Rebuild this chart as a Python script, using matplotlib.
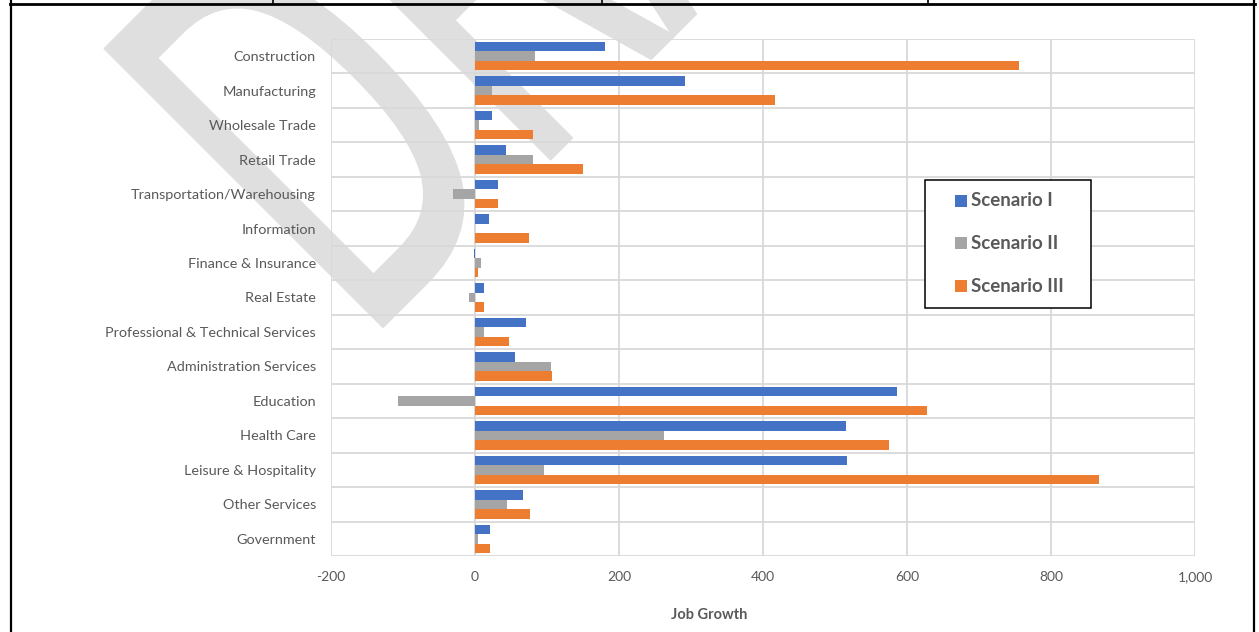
import numpy as np
import matplotlib
matplotlib.use("Agg")
import matplotlib.pyplot as plt
from matplotlib.ticker import FuncFormatter, FixedLocator
from matplotlib.textpath import TextPath
from matplotlib.font_manager import FontProperties
from matplotlib.patches import PathPatch, Rectangle
from matplotlib.transforms import Affine2D, IdentityTransform
from matplotlib.lines import Line2D

plt.rcParams['font.family'] = ['Lato', 'DejaVu Sans']

# --- data ---
categories = ["Construction", "Manufacturing", "Wholesale Trade", "Retail Trade",
              "Transportation/Warehousing", "Information", "Finance & Insurance",
              "Real Estate", "Professional & Technical Services",
              "Administration Services", "Education", "Health Care",
              "Leisure & Hospitality", "Other Services", "Government"]
scenario_1 = [181, 291, 23, 43, 32, 19, -2, 12, 71, 56, 586, 515, 517, 67, 21]
scenario_2 = [83, 23, 6, 80, -30, 0, 8, -8, 12, 106, -107, 263, 96, 45, 4]
scenario_3 = [755, 417, 81, 150, 32, 75, 4, 12, 47, 107, 628, 575, 867, 76, 21]
series_names = ["Scenario I", "Scenario II", "Scenario III"]
colors = ["#4472C4", "#A5A5A5", "#ED7D31"]
x_ticks = [-200, 0, 200, 400, 600, 800, 1000]

W, H = 1259, 632
TXT = "#595959"
GRID = "#d9d9d9"

fig = plt.figure(figsize=(W / 100, H / 100), dpi=100)
fig.patch.set_facecolor("white")

def px(x, y):
    # top-left pixel coords -> display coords
    return x, H - y

# ---- DRAFT watermark (behind the chart) ----
tp = TextPath((0, 0), "DRAFT", size=540, prop=FontProperties(family="DejaVu Sans"))
x0 = tp.get_extents().x0
sx = 0.57
c45 = np.cos(np.pi / 4)
cx, cy = px(383, 327)
tr = Affine2D().scale(sx, 1).rotate_deg(45).translate(cx - x0 * sx * c45, cy - x0 * sx * c45)
wm = PathPatch(tr.transform_path(tp), facecolor="#dfdfdf", edgecolor="#dfdfdf",
               lw=1.5, joinstyle="round", transform=IdentityTransform(), zorder=-1)
fig.add_artist(wm)

# ---- axes ----
ax = fig.add_axes([331 / W, (H - 556) / H, 864 / W, 517 / H])
ax.set_facecolor("none")

y = np.arange(len(categories))
h = 0.275
for k, (vals, name, col) in enumerate(zip([scenario_1, scenario_2, scenario_3], series_names, colors)):
    ax.barh(y + (k - 1) * h, vals, height=h, color=col, label=name, zorder=3)

ax.set_xlim(-200, 1000)
ax.set_ylim(len(categories) - 0.5, -0.5)
ax.set_xticks(x_ticks)
ax.xaxis.set_major_formatter(FuncFormatter(lambda v, p: f"{v:,.0f}"))
ax.set_yticks(y)
ax.set_yticklabels(categories)
ax.yaxis.set_minor_locator(FixedLocator(np.arange(-0.5, len(categories), 1)))

ax.grid(axis="x", which="major", color=GRID, lw=1.3, zorder=0)
ax.grid(axis="y", which="minor", color=GRID, lw=1.3, zorder=0)
ax.axvline(0, color=GRID, lw=1.3, zorder=1)
for s in ax.spines.values():
    s.set_visible(False)
ax.tick_params(axis="both", which="both", length=0)
ax.tick_params(axis="y", pad=10.8, labelsize=10.4, labelcolor=TXT)
ax.tick_params(axis="x", pad=11, labelsize=10, labelcolor=TXT)

fig.text(709 / W, (H - 615) / H, "Job Growth", ha="center", va="center",
         fontsize=10.5, fontweight="bold", color=TXT)

# ---- legend box ----
lx, ly = px(925, 308)
fig.add_artist(Rectangle((lx, ly), 166, 128, facecolor="white", edgecolor="black",
                         lw=1.1, transform=IdentityTransform(), zorder=5))
for name, col, yy in zip(series_names, colors, [201, 243, 286]):
    sx_, sy_ = px(955, yy + 6)
    fig.add_artist(Rectangle((sx_, sy_), 12, 12, facecolor=col, edgecolor="none",
                             transform=IdentityTransform(), zorder=6))
    tx_, ty_ = px(971, yy)
    fig.text(tx_ / W, ty_ / H, name, ha="left", va="center", fontsize=13.5,
             fontweight="bold", color=TXT, zorder=6)

# ---- page frame / table border ----
def seg(x1, y1, x2, y2, lw=1.5):
    a, b = px(x1, y1)
    c, d = px(x2, y2)
    fig.add_artist(Line2D([a, c], [b, d], color="black", lw=lw,
                          transform=IdentityTransform(), zorder=7))

seg(10, 3.5, 1255, 3.5, 2)
seg(11, 0, 11, H, 1.6)
seg(1254, 0, 1254, H, 1.6)
for xv in [273, 602, 928]:
    seg(xv, 0, xv, 3.5, 1.2)

fig.savefig("out.png", dpi=100)
